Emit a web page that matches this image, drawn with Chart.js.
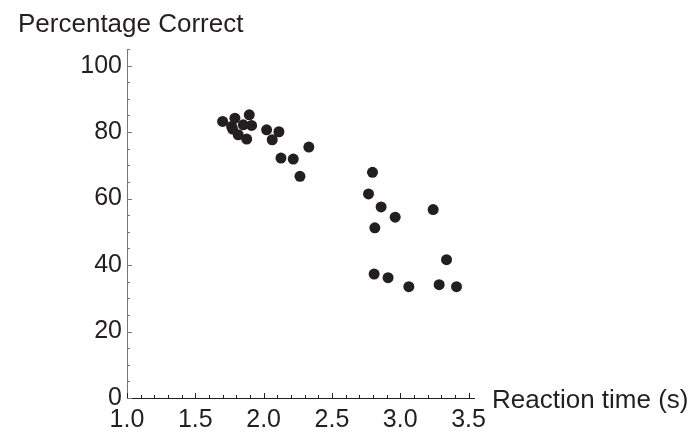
<!DOCTYPE html>
<html>
<head>
<meta charset="utf-8">
<script src="https://cdn.jsdelivr.net/npm/chart.js@4"></script>
<style>
  html, body { margin: 0; padding: 0; background: #fff; }
  #wrap { width: 688px; height: 431px; }
</style>
</head>
<body>
<div id="wrap"><canvas id="myChart" width="688" height="431"></canvas></div>
<script>
// reaction time (s) and percentage correct
const reactionTime = [
  1.70, 1.79, 1.895, 1.766, 1.851, 1.912, 1.814, 1.876, 1.773,
  2.022, 2.112, 2.063, 2.127, 2.217, 2.266, 2.331,
  2.797, 2.768, 2.86, 2.963, 2.814, 3.241, 3.339, 2.809, 2.911, 3.063, 3.285, 3.412
];
const percentCorrect = [
  83.2, 84.2, 85.2, 81.7, 82.2, 82.0, 79.2, 77.9, 80.9,
  80.7, 80.1, 77.7, 72.2, 71.9, 66.7, 75.5,
  67.9, 61.4, 57.5, 54.4, 51.2, 56.7, 41.6, 37.3, 36.2, 33.5, 34.1, 33.5
];
const xTicks = [1.0, 1.5, 2.0, 2.5, 3.0, 3.5];
const yTicks = [0, 20, 40, 60, 80, 100];
const xTitle = "Reaction time (s)";
const yTitle = "Percentage Correct";

const ink = "#231f20";
const family = "'Liberation Sans', Arial, Helvetica, sans-serif";
const tickFont = { family: family, size: 25 };

const points = reactionTime.map((x, i) => ({ x: x, y: percentCorrect[i] }));

// inward ticks, major + minor, placed through the scales
const inwardTicks = {
  id: "inwardTicks",
  afterDraw: (chart) => {
    const { ctx, chartArea, scales } = chart;
    const xs = scales.x, ys = scales.y;
    ctx.save();
    ctx.lineWidth = 1;
    ctx.strokeStyle = ink;
    for (let v = 1.0; v <= 3.5 + 1e-9; v += 0.1) {
      const major = Math.abs(v * 2 - Math.round(v * 2)) < 1e-6;
      const px = Math.round(xs.getPixelForValue(v)) + 0.5;
      ctx.beginPath();
      ctx.moveTo(px, chartArea.bottom);
      ctx.lineTo(px, chartArea.bottom - (major ? 5 : 3));
      ctx.stroke();
    }
    ctx.strokeStyle = "#777";
    for (let v = 0; v <= 105; v += 5) {
      const major = v % 20 === 0;
      const py = Math.round(ys.getPixelForValue(v)) + 0.5;
      ctx.beginPath();
      ctx.moveTo(chartArea.left, py);
      ctx.lineTo(chartArea.left + (major ? 5 : 3), py);
      ctx.stroke();
    }
    // axis titles
    ctx.fillStyle = ink;
    ctx.font = "26px " + family;
    ctx.textBaseline = "alphabetic";
    ctx.textAlign = "left";
    ctx.fillText(yTitle, 18, 32);
    ctx.fillText(xTitle, chartArea.right + 18, 408);
    ctx.restore();
  },
};

const ctx = document.getElementById("myChart").getContext("2d");
new Chart(ctx, {
  type: "scatter",
  data: {
    datasets: [{
      data: points,
      pointRadius: 5.5,
      pointBackgroundColor: ink,
      pointBorderColor: ink,
      pointBorderWidth: 0,
    }],
  },
  options: {
    responsive: false,
    animation: false,
    events: [],
    layout: { padding: { left: 0, top: 49, right: 214, bottom: 0 } },
    plugins: { legend: { display: false }, tooltip: { enabled: false } },
    scales: {
      x: {
        type: "linear",
        min: 1.0,
        max: 3.54,
        afterBuildTicks: (s) => { s.ticks = xTicks.map((v) => ({ value: v })); },
        afterFit: (s) => { s.height = 33; },
        grid: { display: false, drawTicks: false },
        border: { display: true, color: ink, width: 1 },
        ticks: {
          padding: 7,
          color: ink,
          font: tickFont,
          maxRotation: 0,
          callback: (v) => v.toFixed(1),
        },
      },
      y: {
        type: "linear",
        min: 0,
        max: 105,
        afterBuildTicks: (s) => { s.ticks = yTicks.map((v) => ({ value: v })); },
        afterFit: (s) => { s.width = 127; },
        grid: { display: false, drawTicks: false },
        border: { display: true, color: "#777", width: 1 },
        ticks: { padding: 5, color: ink, font: tickFont },
      },
    },
  },
  plugins: [inwardTicks],
});
</script>
</body>
</html>
